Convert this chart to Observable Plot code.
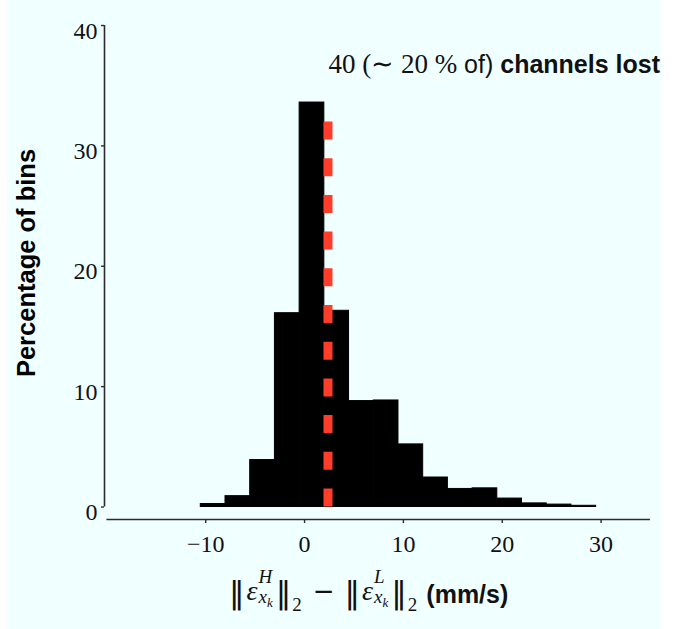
<!DOCTYPE html>
<html><head><meta charset="utf-8">
<script src="https://cdn.jsdelivr.net/npm/d3@7"></script>
<script src="https://cdn.jsdelivr.net/npm/@observablehq/plot@0.6"></script>
<style>
body{margin:0;background:#fff;}
#chart{position:relative;width:689px;height:629px;}
svg{display:block;}
</style></head><body>
<div id="chart"></div>
<script>
// ---- data ----
const binEdges = [-10.5,-8,-5.5,-3,-0.5,2,4.5,7,9.5,12,14.5,17,19.5,22,24.5,27,29.5];
const percentages = [0.25,0.9,3.9,16.1,33.6,16.3,8.8,8.85,5.2,2.45,1.5,1.55,0.7,0.3,0.2,0.1];
const thresholdX = 2.37;
const thresholdTop = 32;
const xTicks = [-10,0,10,20,30];
const yTicks = [0,10,20,30,40];
const xDomain = [-20,35];
const yDomain = [0,40];
const titleMath = "40 (\u223C 20 %";
const titleText = " of) ";
const titleBold = "channels lost";
const yLabel = "Percentage of bins";

const bins = percentages.map((p,i)=>({x1:binEdges[i], x2:binEdges[i+1], y:p}));
const minus = d => String(d).replace("-", "\u2212");
const blank = () => "";

const axisColor = "#2b2b2b";
const plot = Plot.plot({
  width: 689, height: 629,
  marginLeft: 106.4, marginRight: 39, marginTop: 25, marginBottom: 122.5,
  x: {domain: xDomain},
  y: {domain: yDomain},
  style: {background: "transparent", fontFamily: "'Liberation Serif', serif", fontSize: "24px", color: "#000", overflow: "visible"},
  marks: [
    Plot.rectY(bins, {x1: "x1", x2: "x2", y: "y", fill: "black", stroke: "black", strokeWidth: 1}),
    Plot.ruleX([thresholdX], {y1: 0, y2: thresholdTop, stroke: "#ff3d2a", strokeWidth: 9, strokeDasharray: "18,18.7"}),
    Plot.ruleX([xDomain[0]], {y1: yDomain[0], y2: yDomain[1], dx: -2.4, stroke: axisColor, strokeWidth: 1.6}),
    Plot.ruleY([yDomain[0]], {x1: xDomain[0], x2: xDomain[1], dy: 12.5, stroke: axisColor, strokeWidth: 1.6}),
    Plot.axisY(yTicks, {anchor: "left", label: null, tickSize: 3, dx: -2.4, stroke: axisColor, strokeWidth: 1.4, tickFormat: blank}),
    Plot.axisY(yTicks, {anchor: "left", label: null, tickSize: 0, tickPadding: 9.5, dy: 5.5, fontSize: 24, fill: "#111", tickFormat: minus}),
    Plot.axisX(xTicks, {anchor: "bottom", label: null, tickSize: 4, dy: 12.5, stroke: axisColor, strokeWidth: 1.4, tickFormat: blank}),
    Plot.axisX(xTicks, {anchor: "bottom", label: null, tickSize: 0, tickPadding: 28, fontSize: 24, fill: "#111", tickFormat: minus})
  ]
});
document.getElementById("chart").appendChild(plot);

const svg = d3.select(plot);
// background panel
svg.insert("rect", ":first-child")
  .attr("x", 7).attr("y", 0).attr("width", 654).attr("height", 629)
  .attr("fill", "#f0ffff");

// title
const t = svg.append("text")
  .attr("x", 660).attr("y", 73)
  .attr("text-anchor", "end")
  .attr("fill", "#111");
t.append("tspan").style("font-family", "'Liberation Serif', serif").style("font-size", "27px").text(titleMath);
t.append("tspan").style("font-family", "'Liberation Sans', sans-serif").style("font-size", "25px").attr("xml:space","preserve").text(titleText);
t.append("tspan").style("font-family", "'Liberation Sans', sans-serif").style("font-size", "25px").style("font-weight", "bold").text(titleBold);

// y label
svg.append("text")
  .attr("transform", "translate(26,263) rotate(-90)")
  .attr("text-anchor", "middle")
  .attr("dominant-baseline", "central")
  .style("font-family", "'Liberation Sans', sans-serif")
  .style("font-weight", "bold")
  .style("font-size", "25.5px")
  .attr("fill", "#000")
  .text(yLabel);

// x label: ‖ε^H_{x_k}‖_2 − ‖ε^L_{x_k}‖_2 (mm/s)
const B = 600;
const xl = svg.append("text")
  .attr("x", 229).attr("y", B)
  .attr("text-anchor", "start")
  .attr("fill", "#111")
  .style("font-family", "'Liberation Serif', serif")
  .style("font-size", "28px");
let cur = B;
function seg(txt, {y = B, size, family, italic, bold, dx} = {}) {
  const s = xl.append("tspan").attr("dy", y - cur).text(txt);
  cur = y;
  if (size) s.style("font-size", size + "px");
  if (family) s.style("font-family", family);
  if (italic) s.style("font-style", "italic");
  if (bold) s.style("font-weight", "bold");
  if (dx) s.attr("dx", dx);
  return s;
}
const bars = "'DejaVu Sans', sans-serif";
function normTerm(sup, lead) {
  seg("\u2016", {y: B + 3, size: 31, family: bars, dx: lead});
  seg("\u03B5", {italic: true, dx: 2});
  const h = seg(sup, {y: B - 17, size: 19, italic: true, dx: 1});
  const w = h.node().getComputedTextLength();
  seg("x", {y: B + 3, size: 19, italic: true, dx: -w});
  seg("k", {y: B + 7, size: 13, italic: true});
  seg("\u2016", {y: B + 3, size: 31, family: bars, dx: 3});
  seg("2", {y: B + 11, size: 19, dx: 1});
}
normTerm("H", 0);
seg("\u2212", {size: 26, family: bars, dx: 11});
normTerm("L", 10);
seg("(mm/s)", {y: B + 3, size: 25, family: "'Liberation Sans', sans-serif", bold: true, dx: 9});
</script>
</body></html>
